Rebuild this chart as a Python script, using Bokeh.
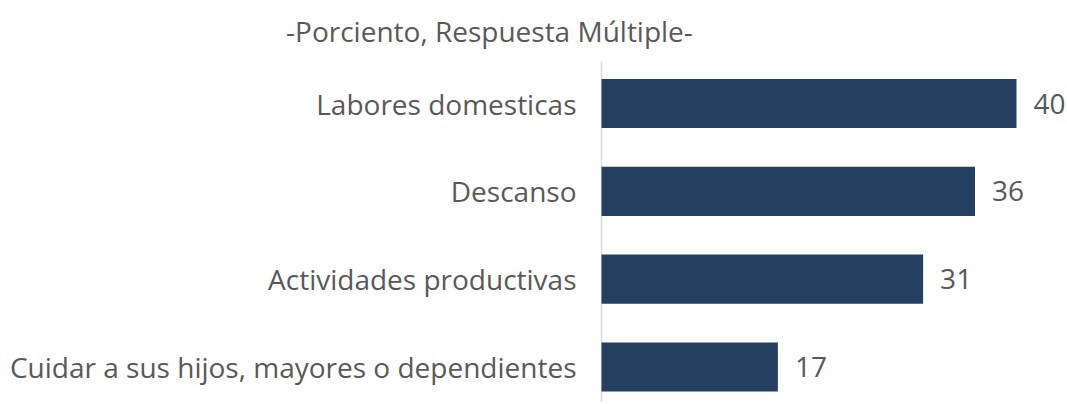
from bokeh.plotting import figure
from bokeh.models import ColumnDataSource, Range1d
from bokeh.core.properties import value
from bokeh.embed import file_html
from bokeh.resources import INLINE

categories = ["Cuidar a sus hijos, mayores o dependientes", "Actividades productivas", "Descanso", "Labores domesticas"]
values = [17, 31, 36, 40]
title_text = "-Porciento, Respuesta Múltiple-"

FONT = "Open Sans"
TXT = "#595959"
BAR = "#243F60"
FS = "28px"

pos = list(range(len(categories)))
src = ColumnDataSource(dict(y=pos, v=values, lbl=[str(v) for v in values], cat=categories,
                            zero=[0] * len(values)))

p = figure(width=1066, height=402, output_backend="svg", toolbar_location=None,
           x_range=Range1d(-57.93, 44.82), y_range=Range1d(-0.404, 4.173),
           min_border_left=0, min_border_right=0, min_border_top=0, min_border_bottom=0)
p.outline_line_color = None
p.background_fill_color = None
p.border_fill_color = "white"
p.xgrid.visible = False
p.ygrid.visible = False
p.xaxis.visible = False
p.yaxis.visible = False

# vertical category axis line
p.segment(x0=[0], y0=[-0.404], x1=[0], y1=[3.478], line_color="#D9D9D9", line_width=1.5)

p.hbar(y="y", right="v", left=0, height=0.56, source=src, fill_color=BAR, line_color=None)
p.text(x="v", y="y", text="lbl", source=src, x_offset=17, text_baseline="middle", text_align="left",
       text_font=value(FONT), text_font_size=FS, text_color=TXT)
p.text(x="zero", y="y", text="cat", source=src, x_offset=-25, text_baseline="middle", text_align="right",
       text_font=value(FONT), text_font_size=FS, text_color=TXT)
p.text(x=[-10.8], y=[3.83], text=[title_text], text_baseline="middle", text_align="center",
       text_font=value(FONT), text_font_size=FS, text_color=TXT)

open("out.html", "w").write(file_html(p, INLINE))
